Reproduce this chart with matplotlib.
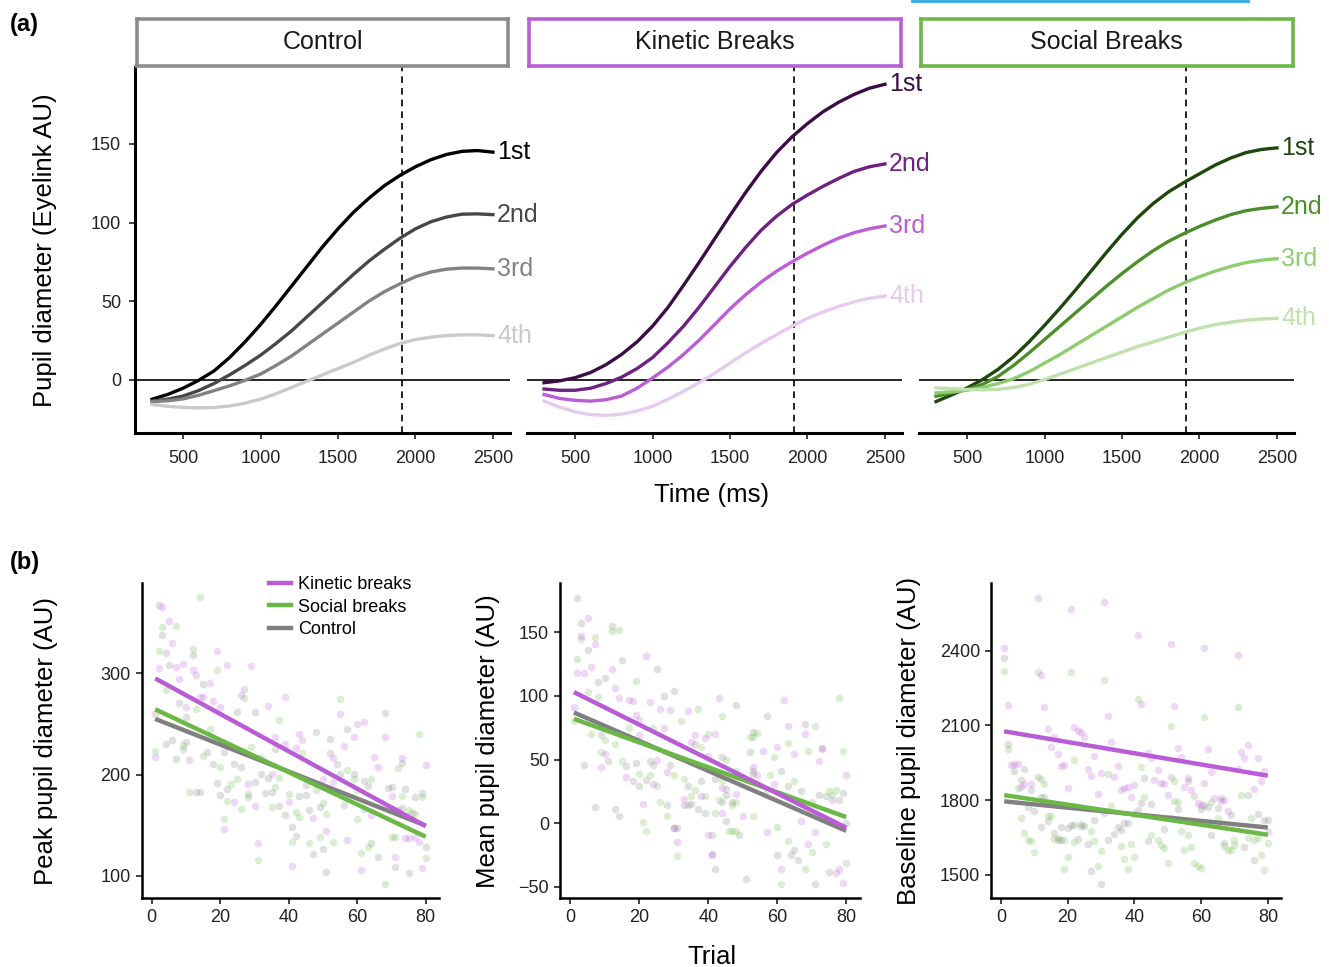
import matplotlib.pyplot as plt
from matplotlib.lines import Line2D

plt.rcParams['font.family'] = ['Liberation Sans', 'DejaVu Sans']

# ---------- panel (a): pupil time courses per break ----------
time_ms = [300, 400, 500, 600, 700, 800, 900, 1000, 1100, 1200, 1300, 1400,
           1500, 1600, 1700, 1800, 1900, 2000, 2100, 2200, 2300, 2400, 2500]

control_1st = [-12.5, -9.5, -5.5, -0.5, 5.5, 14, 24, 35, 47, 59.5, 72, 84.5, 96, 106.5, 115.5, 123.5, 130, 135.5, 140, 143.3, 145.3, 145.8, 144.8]
control_2nd = [-13.7, -12.5, -10.5, -7, -2.5, 3, 9, 15.5, 23, 31, 40, 49, 58, 67, 75.5, 83, 90, 96, 100.5, 103.5, 105.3, 105.5, 105]
control_3rd = [-14, -13.5, -12.3, -10, -7, -4, -0.5, 3.5, 9, 15, 22, 29, 36, 43, 50, 56, 61, 65.5, 68.5, 70.3, 71, 71, 70.5]
control_4th = [-15.8, -17, -17.7, -18, -17.8, -16.8, -15, -12.5, -9, -5, -1, 3, 7, 11, 15.5, 19.5, 23, 25.5, 27, 28, 28.5, 28.5, 28]

kinetic_1st = [-2, -0.8, 1.2, 4.5, 9.5, 16, 24, 34, 46, 60, 74.5, 89.5, 104.5, 119, 132.5, 144.5, 154.5, 163, 170.5, 176.5, 181.5, 185.5, 188]
kinetic_2nd = [-6, -6.8, -6.8, -5.5, -2.5, 1.5, 7, 14, 23.5, 34, 46, 59, 72, 84, 95, 104, 111.5, 117.5, 123, 128, 132.5, 135.5, 137.3]
kinetic_3rd = [-9.5, -12, -13.2, -13.7, -12.8, -10.5, -5.5, 1, 8, 16, 25, 35, 45, 54, 62, 69, 75, 80.5, 85.5, 90, 93.5, 96, 97.8]
kinetic_4th = [-13.7, -17.5, -20.5, -22.3, -22.8, -22, -20, -17, -12.5, -7.5, -2, 4, 10.5, 17, 23, 28.5, 34, 39, 43, 46.5, 49.5, 51.8, 53.2]

social_1st = [-14, -9.8, -5.3, 0, 6.5, 14.5, 24, 34.5, 45.5, 57, 69, 81, 92.5, 103, 112, 119.5, 125.5, 131, 136.5, 141, 144.5, 146.5, 147.5]
social_2nd = [-10.6, -8.5, -6.3, -3, 2, 9, 17, 25.5, 34, 42.5, 51, 59.5, 67.5, 75, 82, 88, 93, 97.5, 101.5, 105, 107.5, 109, 110]
social_3rd = [-8.5, -7.8, -6.8, -5, -2.5, 0.5, 5, 10.5, 16, 22, 28, 34, 40, 46, 51.5, 57, 61.5, 65.5, 69, 72, 74.5, 76, 77]
social_4th = [-5.3, -5.8, -6.3, -6.5, -6.2, -5, -3, 0, 3.5, 7, 10.5, 14, 17.5, 21, 24, 27, 30, 32.7, 35, 36.5, 37.8, 38.6, 39]

break_labels = ['1st', '2nd', '3rd', '4th']
facet_names = ['Control', 'Kinetic Breaks', 'Social Breaks']
peak_window_ms = 1915

# ---------- panel (b): per-trial points (trial, value) ----------
peak_kinetic = [(3,366),(5,352),(6,330),(4,320),(19,322),(2,305),(7,306),(9,309),(12,303),(13,298),(22,308),(29,307),
                (8,294),(17,290),(10,267),(14,277),(15,277),(18,273),(20,267),(26,279),(34,268),(39,277),(55,260),
                (43,240),(60,250),(62,252),(59,237),(68,237),(1,217),(11,214),(32,216),(36,237),(39,230),(42,226),
                (44,234),(53,216),(56,228),(65,217),(66,207),(73,216),(80,209),(28,191),(35,201),(50,196),(53,193),
                (70,179),(24,173),(30,169),(40,173),(47,157),(64,160),(69,167),(21,146),(31,132),(41,110),(51,144),
                (57,135),(61,106),(71,119),(74,137),(75,137),(77,138),(78,133),(79,108)]
peak_social = [(14,375),(3,346),(7,347),(2,322),(12,324),(19,303),(4,284),(13,265),(27,276),(55,275),(17,245),(37,254),
               (78,240),(1,223),(9,229),(15,218),(20,207),(29,227),(44,221),(57,204),(72,206),(11,183),(23,191),(25,196),
               (37,197),(36,188),(40,181),(48,185),(59,196),(60,185),(64,196),(73,179),(79,178),(22,174),(26,166),
               (28,178),(35,168),(42,163),(43,158),(50,172),(51,161),(75,165),(77,161),(21,156),(31,116),(41,133),
               (46,132),(49,138),(53,133),(60,156),(61,122),(63,128),(68,92),(70,138),(71,138),(80,118)]
peak_control = [(2,368),(3,338),(12,318),(5,308),(15,289),(27,285),(8,271),(25,262),(30,262),(68,261),(10,257),(1,260),
                (48,242),(52,235),(57,245),(4,230),(6,234),(9,225),(10,232),(7,215),(16,222),(18,210),(21,222),(24,210),
                (26,207),(36,225),(52,221),(54,210),(55,201),(59,201),(73,211),(13,183),(14,183),(19,192),(20,180),
                (22,186),(28,181),(30,193),(32,201),(34,197),(33,182),(35,183),(43,179),(45,180),(45,190),(62,194),
                (63,189),(69,187),(70,188),(74,186),(77,178),(79,182),(37,169),(39,160),(46,165),(49,168),(56,170),
                (62,166),(72,165),(73,167),(76,162),(41,148),(42,139),(47,121),(50,126),(51,104),(64,132),(66,119),
                (71,109),(75,103),(80,128)]

mean_kinetic = [(5,161),(3,147),(7,141),(2,118),(4,118),(6,123),(12,121),(22,131),(13,106),(14,98),(17,97),(18,96),
                (1,91),(19,85),(23,95),(26,90),(29,89),(34,88),(43,98),(62,97),(20,81),(20,69),(27,75),(36,69),(39,67),
                (35,64),(42,70),(40,53),(56,57),(60,60),(63,76),(68,70),(73,58),(65,54),(72,49),(80,38),(9,44),(10,54),
                (25,50),(16,36),(24,31),(28,40),(38,21),(33,19),(21,15),(30,-4),(31,-15),(40,-9),(41,-25),(44,8),(50,6),
                (57,-7),(61,-36),(69,-16),(71,-7),(77,-39),(78,-36),(79,-47),(67,2),(76,18),(57,26),(59,31),(54,38),
                (53,44),(48,23),(44,28)]
mean_social = [(3,145),(7,146),(14,152),(12,151),(2,129),(19,112),(5,103),(8,99),(1,80),(37,90),(44,84),(78,98),(6,70),
               (10,65),(13,62),(17,75),(24,75),(32,80),(38,60),(40,70),(45,50),(53,68),(54,71),(52,68),(59,52),(63,63),
               (71,76),(69,57),(79,57),(9,56),(15,49),(20,39),(23,38),(25,29),(30,38),(33,35),(36,26),(39,21),(35,21),
               (26,17),(28,6),(21,1),(22,-6),(31,-26),(43,18),(48,17),(47,14),(42,8),(46,-6),(47,-6),(48,-6),(53,6),
               (60,-3),(61,-48),(63,-14),(68,-36),(70,-23),(74,-16),(80,-31),(70,17),(75,25),(76,22),(77,26),(58,38),
               (48,41),(65,33),(44,33)]
mean_control = [(2,177),(3,157),(12,155),(5,136),(8,111),(10,114),(15,128),(25,121),(27,100),(30,104),(48,93),(57,84),
                (9,69),(36,62),(44,52),(53,72),(73,59),(68,78),(52,56),(4,46),(11,49),(16,45),(19,47),(23,49),(24,46),
                (29,46),(18,33),(20,29),(22,34),(34,29),(38,33),(34,14),(35,15),(33,14),(28,14),(13,11),(14,6),(7,13),
                (30,-4),(31,-4),(37,11),(39,8),(41,-9),(41,-24),(42,-36),(44,17),(47,17),(45,2),(49,-9),(51,-44),
                (60,-25),(65,-21),(64,-25),(66,-29),(71,-48),(75,-38),(67,25),(72,22),(74,21),(78,18),(79,24),(80,0),
                (63,29),(53,41),(53,39),(45,27),(45,22),(42,35),(61,41)]

base_kinetic = [(11,2613),(21,2567),(31,2594),(1,2409),(12,2302),(41,2462),(51,2425),(61,2409),(71,2381),(2,2183),
                (13,2175),(32,2139),(42,2187),(52,2178),(14,2084),(16,2052),(15,2015),(17,1987),(22,2095),(23,2078),
                (24,2072),(25,2052),(33,2035),(28,1979),(18,1937),(19,1940),(26,1924),(27,1896),(30,1909),(34,1893),
                (35,1935),(44,1989),(45,1967),(47,1920),(53,2011),(54,1972),(62,2007),(63,1914),(74,2023),(72,1995),
                (73,1967),(77,1967),(71,1925),(79,1916),(78,1878),(76,1846),(3,1940),(4,1945),(5,1943),(7,1865),
                (9,1865),(6,1854),(20,1850),(29,1824),(55,1854),(57,1841),(59,1790),(64,1808),(66,1797),(67,1801),
                (68,1757),(80,1671),(61,1868),(60,1782),(40,1862),(38,1853),(36,1842),(37,1849),(39,1813),(50,1820),
                (48,1868),(49,1866),(46,1882),(56,1890)]
base_social = [(1,2317),(11,2313),(21,2313),(31,2281),(41,2207),(51,2099),(61,2134),(71,2173),(2,2007),(22,1959),
               (32,1906),(42,1931),(52,1878),(5,1850),(12,1885),(13,1865),(6,1727),(7,1667),(8,1640),(9,1634),(10,1593),
               (14,1737),(15,1738),(17,1647),(19,1639),(20,1571),(19,1524),(24,1703),(27,1676),(28,1634),(29,1537),
               (30,1596),(33,1778),(36,1615),(37,1565),(38,1524),(39,1624),(40,1573),(43,1814),(45,1658),(47,1639),
               (48,1620),(49,1607),(50,1548),(53,1791),(54,1676),(55,1599),(56,1658),(57,1612),(58,1548),(60,1528),
               (59,1536),(63,1793),(65,1727),(70,1640),(67,1616),(68,1599),(69,1599),(70,1620),(72,1822),(74,1648),
               (75,1727),(76,1638),(77,1647),(78,1581),(80,1626),(79,1519),(52,1797),(22,1630),(16,1645)]
base_control = [(1,2372),(2,2027),(4,1917),(7,1924),(6,1882),(9,1841),(11,1894),(13,1812),(8,1771),(12,1692),(14,1718),
                (16,1668),(18,1639),(18,1692),(22,1700),(23,1644),(25,1695),(26,1623),(28,1719),(27,1515),(30,1464),
                (31,1749),(32,1639),(34,1663),(35,1691),(36,1682),(37,1707),(38,1708),(40,1745),(41,1762),(42,1787),
                (43,1888),(45,1785),(44,1635),(49,1683),(51,1727),(53,1763),(51,1893),(56,1877),(58,1817),(60,1763),
                (61,1781),(62,1774),(63,1659),(65,1770),(66,1809),(69,1741),(67,1627),(74,1821),(73,1613),(77,1745),
                (76,1559),(79,1721),(80,1719),(20,1690),(21,1700),(24,1698),(17,1639),(10,1758),(12,1813)]

# linear fits: value at trial 1 and trial 80
fit_trials = [1, 80]
peak_fit = {'kinetic': [295, 149], 'social': [264.5, 138.5], 'control': [255, 149.5]}
mean_fit = {'kinetic': [103, -3.5], 'social': [82, 4.8], 'control': [87, -6]}
base_fit = {'kinetic': [2076, 1898], 'social': [1820, 1661], 'control': [1795, 1690]}

# ---------- styling ----------
W, H = 1329, 967
fig = plt.figure(figsize=(W / 100, H / 100), dpi=100)


def add_ax(x0, y0, x1, y1):
    a = fig.add_axes([x0 / W, 1 - y1 / H, (x1 - x0) / W, (y1 - y0) / H])
    a.patch.set_alpha(0)
    return a


strip_cols = ['#8c8c8c', '#b860d6', '#6cb84a']
line_cols = [['#000000', '#474747', '#828282', '#cacaca'],
             ['#3d0b46', '#6e2180', '#bb5dd6', '#e6cbee'],
             ['#1d470c', '#4c8f2a', '#8dcc6f', '#bfe1ae']]
curves = [[control_1st, control_2nd, control_3rd, control_4th],
          [kinetic_1st, kinetic_2nd, kinetic_3rd, kinetic_4th],
          [social_1st, social_2nd, social_3rd, social_4th]]
tick_col = '#222222'

for i, x0 in enumerate([135, 527, 919]):
    ax = add_ax(x0, 67, x0 + 375, 433)
    ax.axhline(0, color='black', lw=1.2, zorder=1)
    ax.axvline(peak_window_ms, color='black', lw=1.2, ls=(0, (4, 3)), zorder=1)
    for vals, col, lab in zip(curves[i], line_cols[i], break_labels):
        ax.plot(time_ms, vals, color=col, lw=2.4, zorder=2, solid_joinstyle='round')
        ax.annotate(lab, xy=(time_ms[-1], vals[-1]), xytext=(3, 0), textcoords='offset points',
                    ha='left', va='center', color=col, fontsize=18, annotation_clip=False)
    ax.set_xlim(190, 2610)
    ax.set_ylim(-34, 199)
    ax.set_xticks([500, 1000, 1500, 2000, 2500])
    ax.set_yticks([0, 50, 100, 150])
    for s in ['top', 'right']:
        ax.spines[s].set_visible(False)
    ax.spines['bottom'].set_linewidth(2.2)
    ax.tick_params(axis='x', length=4, width=1.2, labelsize=13, colors=tick_col, pad=8)
    if i == 0:
        ax.spines['left'].set_linewidth(2.2)
        ax.tick_params(axis='y', length=4, width=1.2, labelsize=13, colors=tick_col, pad=6)
        ax.set_ylabel('Pupil diameter (Eyelink AU)', fontsize=18.5)
        ax.yaxis.set_label_coords(-0.208, 0.5)
    else:
        ax.spines['left'].set_visible(False)
        ax.tick_params(axis='y', left=False, labelleft=False)

    sax = add_ax(x0 + 1.5, 18.5, x0 + 373.5, 65.5)
    sax.set_xticks([])
    sax.set_yticks([])
    for s in sax.spines.values():
        s.set_edgecolor(strip_cols[i])
        s.set_linewidth(2.6)
    sax.text(0.5, 0.5, facet_names[i], ha='center', va='center', fontsize=18, color='#1a1a1a',
             transform=sax.transAxes)

fig.text(712 / W, 1 - 495 / H, 'Time (ms)', ha='center', va='center', fontsize=18.5)

# ---------- panel (b) ----------
cond_cols = {'kinetic': '#b95cd6', 'social': '#6bb847', 'control': '#808080'}
panels_b = [
    ('Peak pupil diameter (AU)', 141.7, 439.3, (77.7, 389), [100, 200, 300],
     {'control': peak_control, 'social': peak_social, 'kinetic': peak_kinetic}, peak_fit, -0.281),
    ('Mean pupil diameter (AU)', 560.3, 859.8, (-59, 188.5), [-50, 0, 50, 100, 150],
     {'control': mean_control, 'social': mean_social, 'kinetic': mean_kinetic}, mean_fit, -0.201),
    ('Baseline pupil diameter (AU)', 991, 1281, (1406, 2670), [1500, 1800, 2100, 2400],
     {'control': base_control, 'social': base_social, 'kinetic': base_kinetic}, base_fit, -0.241),
]

for ylab, x0, x1, ylim, yt, pts, fit, lab_x in panels_b:
    ax = add_ax(x0, 583.3, x1, 898.3)
    for cond in ['control', 'social', 'kinetic']:
        tr = [p[0] for p in pts[cond]]
        vv = [p[1] for p in pts[cond]]
        ax.scatter(tr, vv, s=30, color=cond_cols[cond], alpha=0.24, linewidths=0, zorder=1)
    for cond in ['control', 'social', 'kinetic']:
        ax.plot(fit_trials, fit[cond], color=cond_cols[cond], lw=3.2, solid_capstyle='butt', zorder=3)
    ax.set_xlim(-2.95, 83.95)
    ax.set_ylim(*ylim)
    ax.set_xticks([0, 20, 40, 60, 80])
    ax.set_yticks(yt)
    for s in ['top', 'right']:
        ax.spines[s].set_visible(False)
    for s in ['left', 'bottom']:
        ax.spines[s].set_linewidth(1.8)
    ax.tick_params(length=4, width=1.2, labelsize=13, colors=tick_col, pad=4)
    ax.set_ylabel(ylab, fontsize=18.5)
    ax.yaxis.set_label_coords(lab_x, 0.5)

fig.text(712 / W, 1 - 957 / H, 'Trial', ha='center', va='center', fontsize=18.5)

handles = [Line2D([], [], color=cond_cols[c], lw=3.2) for c in ['kinetic', 'social', 'control']]
fig.legend(handles, ['Kinetic breaks', 'Social breaks', 'Control'], loc='upper left',
           bbox_to_anchor=(262 / W, 1 - 569 / H), frameon=False, fontsize=13,
           handlelength=1.2, handletextpad=0.4, labelspacing=0.3, borderaxespad=0)

fig.text(10 / W, 1 - 25 / H, '(a)', fontsize=17, fontweight='bold', va='center')
fig.text(10 / W, 1 - 563 / H, '(b)', fontsize=17, fontweight='bold', va='center')

# thin blue mark at the top edge of the original figure
fig.add_artist(Line2D([912 / W, 1248 / W], [1 - 1 / H, 1 - 1 / H], color='#2aa9e0', lw=2))

fig.savefig('out.png', dpi=100)
